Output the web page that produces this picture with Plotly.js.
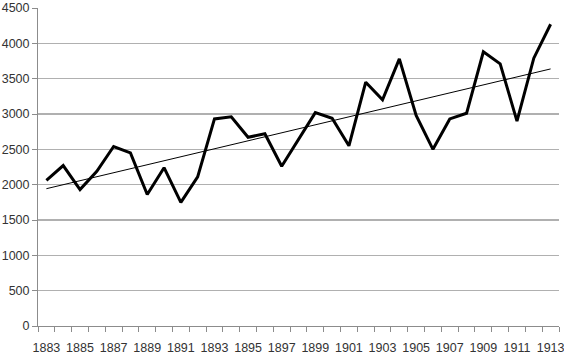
<!DOCTYPE html>
<html>
<head>
<meta charset="utf-8">
<script src="https://cdn.plot.ly/plotly-3.0.1.min.js"></script>
<style>html,body{margin:0;padding:0;background:#fff;}#chart{width:564px;height:354px;}</style>
</head>
<body>
<div id="chart"></div>
<script>
const years = [1883,1884,1885,1886,1887,1888,1889,1890,1891,1892,1893,1894,1895,1896,1897,1898,1899,1900,1901,1902,1903,1904,1905,1906,1907,1908,1909,1910,1911,1912,1913];
const values = [2060,2270,1930,2190,2540,2450,1860,2240,1750,2110,2930,2960,2670,2720,2260,2650,3020,2940,2550,3450,3200,3780,2980,2500,2930,3010,3880,3710,2900,3790,4270];
const xTickLabels = ["1883","1885","1887","1889","1891","1893","1895","1897","1899","1901","1903","1905","1907","1909","1911","1913"];
const yTicks = [0,500,1000,1500,2000,2500,3000,3500,4000,4500];

// Linear trend line (least squares fit of the series)
const n = years.length;
const mx = years.reduce((a,b)=>a+b,0)/n;
const my = values.reduce((a,b)=>a+b,0)/n;
let sxy = 0, sxx = 0;
for (let i=0;i<n;i++){ sxy += (years[i]-mx)*(values[i]-my); sxx += (years[i]-mx)*(years[i]-mx); }
const slope = sxy/sxx, icpt = my - slope*mx;
const trendX = [years[0], years[n-1]];
const trendY = trendX.map(x => icpt + slope*x);

const font = {family: 'Liberation Sans, Arial, sans-serif', size: 12.5, color: '#333'};

Plotly.newPlot('chart', [
  {x: years, y: values, type: 'scatter', mode: 'lines', line: {color: '#000', width: 3}, hoverinfo: 'skip'},
  {x: trendX, y: trendY, type: 'scatter', mode: 'lines', line: {color: '#000', width: 1}, hoverinfo: 'skip'}
], {
  width: 564, height: 354,
  margin: {l: 38, r: 5, t: 8, b: 28},
  paper_bgcolor: '#fff', plot_bgcolor: '#fff',
  showlegend: false,
  font: font,
  xaxis: {
    type: 'linear', range: [1882.5, 1913.5],
    tickvals: xTickLabels.map(Number), ticktext: xTickLabels,
    ticks: 'outside', ticklen: 10, tickcolor: 'rgba(0,0,0,0)',
    ticklabeloverflow: 'allow',
    showgrid: false, zeroline: false,
    showline: true, linecolor: '#8c8c8c', linewidth: 1,
    minor: {tick0: 1882.5, dtick: 1, ticks: 'outside', ticklen: 5, tickcolor: '#8c8c8c', tickwidth: 1, showgrid: false},
    tickfont: font
  },
  yaxis: {
    range: [0, 4500], tickvals: yTicks, ticktext: yTicks.map(String),
    ticks: 'outside', ticklen: 5, tickcolor: '#8c8c8c',
    ticklabeloverflow: 'allow',
    showgrid: true, gridcolor: '#b0b0b0', gridwidth: 1.5,
    zeroline: false,
    showline: true, linecolor: '#8c8c8c', linewidth: 1,
    tickfont: font
  }
}, {staticPlot: true, displayModeBar: false});
</script>
</body>
</html>
